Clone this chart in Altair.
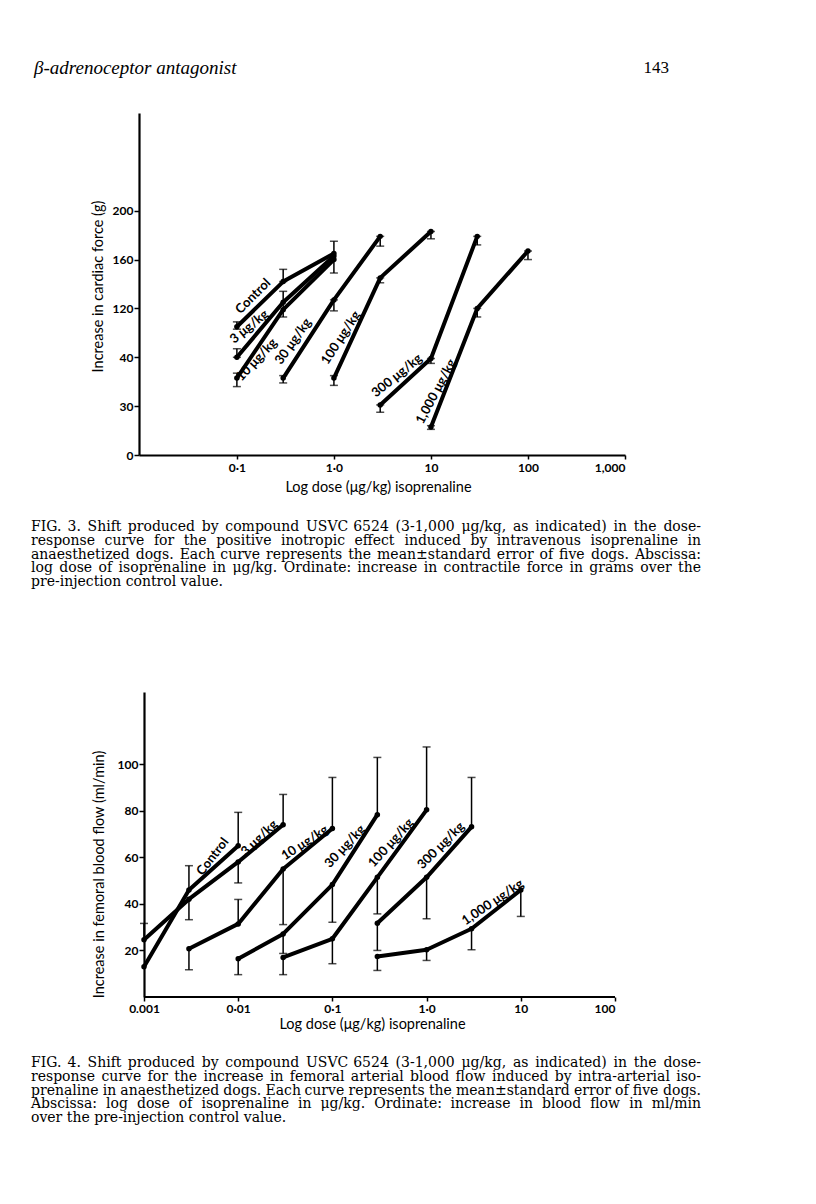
import altair as alt
import pandas as pd

# ---------------- Fig. 3 (cardiac force) ----------------
f3_names = ["Control", "3 μg/kg", "10 μg/kg", "30 μg/kg", "100 μg/kg", "300 μg/kg", "1,000 μg/kg"]
f3_ctrl_dose = [0.1, 0.3, 1.0]
f3_ctrl_val = [105, 142, 165]
f3_3_dose = [0.1, 0.3, 1.0]
f3_3_val = [80, 125, 163]
f3_10_dose = [0.1, 0.3, 1.0]
f3_10_val = [63, 119, 160]
f3_30_dose = [0.3, 1.0, 3.0]
f3_30_val = [63, 127, 179]
f3_100_dose = [1.0, 3.0, 10.0]
f3_100_val = [63, 145, 183]
f3_300_dose = [3.0, 10.0, 30.0]
f3_300_val = [41, 79, 179]
f3_1000_dose = [10.0, 30.0, 100.0]
f3_1000_val = [23, 120, 167]

f3_err_dose = [0.1, 0.3, 0.1, 0.3, 0.1, 1.0, 0.3, 1.0, 3.0, 1.0, 3.0, 10.0, 3.0, 10.0, 30.0, 10.0, 30.0, 100.0]
f3_err_lo = [103, 142, 80, 113, 56, 149, 59, 118, 171, 57, 141, 177, 35, 75, 172, 21, 113, 160]
f3_err_hi = [109, 152, 87, 134, 67, 175, 65, 127, 179, 65, 145, 183, 41, 79, 179, 24, 120, 167]

f3_lab_dose = [0.147, 0.134, 0.16, 0.38, 1.18, 4.46, 11.3]
f3_lab_val = [130, 105, 78, 93, 96, 65, 52]
f3_lab_angle = [315, 321, 313, 305, 303, 321, 298]

f3_y_ticks = [0, 40, 80, 120, 160, 200]
f3_y_labels = ["0", "30", "40", "120", "160", "200"]
f3_x_ticks = [0.1, 1, 10, 100, 1000]
f3_x_labels = ["0·1", "1·0", "10", "100", "1,000"]

# ---------------- Fig. 4 (femoral blood flow) ----------------
f4_names = ["Control", "3 μg/kg", "10 μg/kg", "30 μg/kg", "100 μg/kg", "300 μg/kg", "1,000 μg/kg"]
f4_ctrl_dose = [0.001, 0.003, 0.01]
f4_ctrl_val = [13, 46, 65]
f4_3_dose = [0.001, 0.003, 0.01, 0.03]
f4_3_val = [24.6, 42, 58, 74]
f4_10_dose = [0.003, 0.01, 0.03, 0.1]
f4_10_val = [20.7, 31.4, 55, 72.4]
f4_30_dose = [0.01, 0.03, 0.1, 0.3]
f4_30_val = [16.4, 27.1, 48.3, 78.3]
f4_100_dose = [0.03, 0.1, 0.3, 1.0]
f4_100_val = [17, 25, 51.4, 80.4]
f4_300_dose = [0.3, 1.0, 3.0]
f4_300_val = [31.7, 51.4, 73.1]
f4_1000_dose = [0.3, 1.0, 3.0, 10.0]
f4_1000_val = [17.4, 20.3, 29.3, 46]

f4_err_dose = [0.001, 0.003, 0.003, 0.01, 0.01, 0.03,
               0.003, 0.01, 0.03, 0.1,
               0.01, 0.03, 0.1, 0.3,
               0.03, 0.1, 0.3, 1.0,
               0.3, 1.0, 3.0,
               0.3, 1.0, 3.0, 10.0]
f4_err_mean = [24.6, 46, 42, 65, 58, 74,
               20.7, 31.4, 55, 72.4,
               16.4, 27.1, 48.3, 78.3,
               17, 25, 51.4, 80.4,
               31.7, 51.4, 73.1,
               17.4, 20.3, 29.3, 46]
f4_err_end = [31.6, 56.4, 33.2, 79.3, 49, 87,
              11.7, 41.9, 31.1, 94.3,
              9.6, 18.7, 32.1, 102.9,
              9.6, 14.3, 35.7, 107.4,
              20, 33.6, 94.3,
              11.4, 15.7, 20.3, 34.6]

f4_lab_dose = [0.00536, 0.0168, 0.0512, 0.136, 0.419, 1.42, 5.03]
f4_lab_val = [60.3, 68.3, 66.2, 64.7, 66.2, 65, 40.7]
f4_lab_angle = [308, 316, 327, 313, 312, 315, 326]

f4_y_ticks = [20, 40, 60, 80, 100]
f4_x_ticks = [0.001, 0.01, 0.1, 1, 10, 100]
f4_x_labels = ["0.001", "0·01", "0·1", "1·0", "10", "100"]
f4_x_axis_span = [0.001, 100]

# ---------------- page text ----------------
header_left = "β-adrenoceptor antagonist"
header_right = "143"
caption3 = [
    "FIG. 3.  Shift produced by compound USVC 6524 (3-1,000 μg/kg, as indicated) in the dose-",
    "response curve for the positive inotropic effect induced by intravenous isoprenaline in",
    "anaesthetized dogs. Each curve represents the mean±standard error of five dogs. Abscissa:",
    "log dose of isoprenaline in μg/kg. Ordinate: increase in contractile force in grams over the",
    "pre-injection control value.",
]
caption4 = [
    "FIG. 4.  Shift produced by compound USVC 6524 (3-1,000 μg/kg, as indicated) in the dose-",
    "response curve for the increase in femoral arterial blood flow induced by intra-arterial iso-",
    "prenaline in anaesthetized dogs. Each curve represents the mean±standard error of five dogs.",
    "Abscissa: log dose of isoprenaline in μg/kg. Ordinate: increase in blood flow in ml/min",
    "over the pre-injection control value.",
]

LABEL_FONT = "Lato"
SERIF = "Liberation Serif"
CAP_FONT = "DejaVu Serif"
CAP_SIZE = 14
CAP_WIDTH = 670
CAP_LINE = 13.75
one = pd.DataFrame({"a": [0]})

# approximate advance widths (em) for DejaVu Serif, used only to justify caption lines
_W = {" ": .318, ",": .318, ".": .318, "-": .338, ":": .337, "/": .337, "(": .390, ")": .390,
      "±": .838, "μ": .659,
      "a": .596, "b": .640, "c": .560, "d": .640, "e": .592, "f": .371, "g": .640, "h": .643,
      "i": .319, "j": .313, "k": .609, "l": .319, "m": .953, "n": .643, "o": .602, "p": .640,
      "q": .640, "r": .478, "s": .516, "t": .402, "u": .643, "v": .569, "w": .850, "x": .569,
      "y": .569, "z": .523,
      "A": .722, "C": .715, "E": .682, "F": .635, "G": .776, "I": .397, "O": .784, "S": .654,
      "U": .794, "V": .722}


def word_width(w):
    return sum(_W.get(ch, .636) for ch in w) * CAP_SIZE


def caption_words(lines, x0, y0):
    left, right = [], []
    for i, line in enumerate(lines):
        words = line.split()
        y = y0 + i * CAP_LINE
        widths = [word_width(w) for w in words]
        if i == len(lines) - 1:
            x = x0
            for w, ww in zip(words, widths):
                left.append({"word": w, "px": x, "py": y})
                x += ww + 0.318 * CAP_SIZE
        else:
            gap = max((CAP_WIDTH - sum(widths)) / (len(words) - 1), 3)
            x = x0
            for j, (w, ww) in enumerate(zip(words, widths)):
                if j == len(words) - 1:
                    right.append({"word": w, "px": x0 + CAP_WIDTH, "py": y})
                else:
                    left.append({"word": w, "px": x, "py": y})
                    x += ww + gap
    return pd.DataFrame(left), pd.DataFrame(right)


def caption_layers(lines, x0, y0):
    ldf, rdf = caption_words(lines, x0, y0)
    out = []
    for df, al in ((ldf, "left"), (rdf, "right")):
        out.append(alt.Chart(df).mark_text(font=CAP_FONT, fontSize=CAP_SIZE, color="black",
                                           align=al, baseline="middle").encode(
            x=alt.X("px:Q", scale=None, axis=None),
            y=alt.Y("py:Q", scale=None, axis=None),
            text="word:N"))
    return out


def series_df(names, doses, vals):
    rows = []
    for name, ds, vs in zip(names, doses, vals):
        for i, (d, v) in enumerate(zip(ds, vs)):
            rows.append({"series": name, "dose": d, "val": v, "ord": i})
    return pd.DataFrame(rows)


def label_expr(ticks, labels):
    parts = []
    for t, l in zip(ticks, labels):
        parts.append(f"datum.value == {t} ? '{l}' : ")
    return "".join(parts) + "''"


def panel(df, err_df, cap_df, lab_df, X, Y, width, height, texts):
    base_line = alt.Chart(df).mark_line(color="black", strokeWidth=4, strokeCap="round",
                                        strokeJoin="round").encode(
        x=X, y=Y, detail="series:N", order="ord:Q")
    dots = alt.Chart(df).mark_circle(color="black", size=30, opacity=1).encode(x=X, y=Y)
    err = alt.Chart(err_df).mark_rule(color="black", strokeWidth=1.5).encode(
        x=X, y=Y, y2="val2:Q")
    caps = alt.Chart(cap_df).mark_tick(color="black", orient="horizontal", size=8,
                                       thickness=1.5).encode(x=X, y=Y)
    labs = alt.Chart(lab_df).mark_text(font=LABEL_FONT, fontSize=13, fontWeight="bold",
                                       color="black", align="center",
                                       baseline="middle").encode(
        x=X, y=Y, text="series:N", angle=alt.Angle("ang:Q", scale=None))
    layers = [err, caps, base_line, dots, labs] + texts
    return alt.layer(*layers).properties(width=width, height=height)


def text_layer(s, x, y, size, font=SERIF, style="normal", align="left"):
    return alt.Chart(one).mark_text(font=font, fontSize=size, fontStyle=style, color="black",
                                    align=align, baseline="middle").encode(
        x=alt.value(x), y=alt.value(y), text=alt.value(s))


axis_common = dict(grid=False, domainColor="black", domainWidth=2.2, tickColor="black",
                   tickWidth=1.5, labelColor="black", labelFont=LABEL_FONT, labelFontSize=12,
                   labelFontWeight="bold", titleFont=LABEL_FONT, titleFontSize=14.5,
                   titleFontWeight="normal", titleColor="black", titleBaseline="middle")

# ---------- figure 3 ----------
f3_df = series_df(f3_names,
                  [f3_ctrl_dose, f3_3_dose, f3_10_dose, f3_30_dose, f3_100_dose, f3_300_dose, f3_1000_dose],
                  [f3_ctrl_val, f3_3_val, f3_10_val, f3_30_val, f3_100_val, f3_300_val, f3_1000_val])
f3_err = pd.DataFrame({"dose": f3_err_dose, "val": f3_err_lo, "val2": f3_err_hi})
f3_caps = pd.DataFrame({"dose": f3_err_dose + f3_err_dose, "val": f3_err_lo + f3_err_hi})
f3_lab = pd.DataFrame({"dose": f3_lab_dose, "val": f3_lab_val, "ang": f3_lab_angle, "series": f3_names})

X3 = alt.X("dose:Q", scale=alt.Scale(type="log", domain=[0.0098, 1000], nice=False),
           axis=alt.Axis(values=f3_x_ticks, labelExpr=label_expr(f3_x_ticks, f3_x_labels),
                         title="Log dose (μg/kg) isoprenaline", tickSize=4, labelPadding=3,
                         titleX=239, titleY=32, **axis_common))
Y3 = alt.Y("val:Q", scale=alt.Scale(domain=[0, 280], nice=False),
           axis=alt.Axis(values=f3_y_ticks, labelExpr=label_expr(f3_y_ticks, f3_y_labels),
                         title="Increase in cardiac force (g)", tickSize=5, labelPadding=1,
                         titleX=-41, titleY=173, **axis_common))

texts3 = [text_layer(header_left, -105, -45, 19, style="italic"),
          text_layer(header_right, 530, -45, 17, align="right")]
texts3 += caption_layers(caption3, -108, 414)

fig3 = panel(f3_df, f3_err, f3_caps, f3_lab, X3, Y3, 486, 342, texts3)

# ---------- figure 4 ----------
f4_df = series_df(f4_names,
                  [f4_ctrl_dose, f4_3_dose, f4_10_dose, f4_30_dose, f4_100_dose, f4_300_dose, f4_1000_dose],
                  [f4_ctrl_val, f4_3_val, f4_10_val, f4_30_val, f4_100_val, f4_300_val, f4_1000_val])
f4_err = pd.DataFrame({"dose": f4_err_dose, "val": f4_err_mean, "val2": f4_err_end})
f4_caps = pd.DataFrame({"dose": f4_err_dose, "val": f4_err_end})
f4_lab = pd.DataFrame({"dose": f4_lab_dose, "val": f4_lab_val, "ang": f4_lab_angle, "series": f4_names})

# the plot area starts 5px left of the 0.001 ordinate so that Fig. 4 sits 5px right of Fig. 3
X4 = alt.X("dose:Q", scale=alt.Scale(type="log", domain=[0.000885, 100], nice=False),
           axis=alt.Axis(values=f4_x_ticks, labelExpr=label_expr(f4_x_ticks, f4_x_labels),
                         title="Log dose (μg/kg) isoprenaline", tickSize=4, labelPadding=2,
                         titleX=233, titleY=27, domain=False, **axis_common))
Y4 = alt.Y("val:Q", scale=alt.Scale(domain=[0, 131], nice=False),
           axis=alt.Axis(values=f4_y_ticks, title="Increase in femoral blood flow (ml/min)",
                         tickSize=5, labelPadding=1, titleX=-45, titleY=182, offset=-5,
                         **axis_common))

x_axis_line4 = alt.Chart(one).mark_rule(color="black", strokeWidth=2.2).encode(
    x=alt.datum(f4_x_axis_span[0]), x2=alt.datum(f4_x_axis_span[1]), y=alt.datum(0))

texts4 = [x_axis_line4] + caption_layers(caption4, -108, 371)

fig4 = panel(f4_df, f4_err, f4_caps, f4_lab, X4, Y4, 476, 305, texts4)

chart = alt.vconcat(fig3, fig4, spacing=101).properties(
    padding={"left": 22, "top": 50, "right": 5, "bottom": 5},
    background="white"
).configure_view(stroke="transparent")

chart.save("out.html", embed_options={"renderer": "svg", "actions": False})
